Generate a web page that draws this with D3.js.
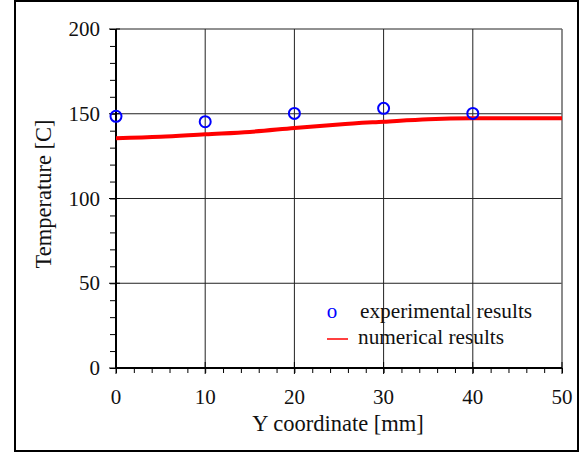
<!DOCTYPE html>
<html>
<head>
<meta charset="utf-8">
<script src="https://cdn.jsdelivr.net/npm/d3@7"></script>
<style>
  body { margin: 0; background: #fff; }
  svg { display: block; }
</style>
</head>
<body>
<div id="chart"></div>
<script>
const width = 587;
const height = 457;
const margin = { top: 29, right: 25, bottom: 89, left: 116 };
const serif = "Liberation Serif, Times New Roman, serif";

// experimental measurements (circles)
const expX = [0, 10, 20, 30, 40];
const expY = [148.5, 145.3, 150.2, 153.2, 150.2];

// numerical results (red line)
const numX = [0, 5, 10, 15, 20, 25, 30, 35, 40, 45, 50];
const numY = [135.5, 136.4, 137.9, 139.3, 141.6, 143.7, 145.3, 146.8, 147.3, 147.3, 147.3];

const xTicks = [0, 10, 20, 30, 40, 50];
const yTicks = [0, 50, 100, 150, 200];

const x = d3.scaleLinear().domain([0, 50]).range([margin.left, width - margin.right]);
const y = d3.scaleLinear().domain([0, 200]).range([height - margin.bottom, margin.top]);

const svg = d3.select("#chart").append("svg")
  .attr("width", width)
  .attr("height", height);

// outer frame
svg.append("rect")
  .attr("x", 15).attr("y", 1)
  .attr("width", 563).attr("height", 450)
  .attr("fill", "none")
  .attr("stroke", "#000")
  .attr("stroke-width", 2);

// grid
svg.append("g")
  .selectAll("line")
  .data(xTicks.slice(1, -1))
  .join("line")
  .attr("x1", d => x(d)).attr("x2", d => x(d))
  .attr("y1", y(200)).attr("y2", y(0))
  .attr("stroke", "#222").attr("stroke-width", 1);

svg.append("g")
  .selectAll("line")
  .data(yTicks.slice(1))
  .join("line")
  .attr("x1", x(0)).attr("x2", x(50))
  .attr("y1", d => y(d)).attr("y2", d => y(d))
  .attr("stroke", "#222").attr("stroke-width", 1);

// right border of plot
svg.append("line")
  .attr("x1", x(50)).attr("x2", x(50))
  .attr("y1", y(200)).attr("y2", y(0))
  .attr("stroke", "#666").attr("stroke-width", 1.5);

// x axis: minor ticks (every 2) + major ticks
const xAxis = svg.append("g").attr("transform", `translate(0,${y(0)})`);
xAxis.call(d3.axisBottom(x).tickValues(d3.range(0, 51, 2)).tickSize(5).tickFormat(""))
  .call(g => g.select(".domain").remove());
xAxis.append("g").selectAll("line")
  .data(xTicks)
  .join("line")
  .attr("x1", d => x(d)).attr("x2", d => x(d))
  .attr("y1", -6).attr("y2", 6)
  .attr("stroke", "#000");
xAxis.append("line")
  .attr("x1", x(0)).attr("x2", x(50))
  .attr("stroke", "#000").attr("stroke-width", 2);
xAxis.append("g").selectAll("text")
  .data(xTicks)
  .join("text")
  .attr("x", d => x(d))
  .attr("y", 36)
  .attr("text-anchor", "middle")
  .attr("font-family", serif)
  .attr("font-size", 21)
  .attr("fill", "#111")
  .text(d => d);

// y axis: minor ticks (every 10) + major ticks
const yAxis = svg.append("g").attr("transform", `translate(${x(0)},0)`);
yAxis.call(d3.axisLeft(y).tickValues(d3.range(0, 201, 10)).tickSize(6).tickFormat(""))
  .call(g => g.select(".domain").remove());
yAxis.append("g").selectAll("line")
  .data(yTicks)
  .join("line")
  .attr("y1", d => y(d)).attr("y2", d => y(d))
  .attr("x1", -7).attr("x2", 4)
  .attr("stroke", "#000");
yAxis.append("line")
  .attr("y1", y(0)).attr("y2", y(200))
  .attr("stroke", "#000").attr("stroke-width", 2);
yAxis.append("g").selectAll("text")
  .data(yTicks)
  .join("text")
  .attr("x", -16)
  .attr("y", d => y(d) + 7)
  .attr("text-anchor", "end")
  .attr("font-family", serif)
  .attr("font-size", 21)
  .attr("fill", "#111")
  .text(d => d);

// axis titles
svg.append("text")
  .attr("x", 338)
  .attr("y", 431)
  .attr("text-anchor", "middle")
  .attr("font-family", serif)
  .attr("font-size", 22.5)
  .attr("fill", "#111")
  .text("Y coordinate [mm]");

svg.append("text")
  .attr("transform", `translate(51,194) rotate(-90)`)
  .attr("text-anchor", "middle")
  .attr("font-family", serif)
  .attr("font-size", 22.5)
  .attr("fill", "#111")
  .text("Temperature [C]");

// numerical line
const line = d3.line().x((d, i) => x(numX[i])).y(d => y(d)).curve(d3.curveMonotoneX);
svg.append("path")
  .datum(numY)
  .attr("d", line)
  .attr("fill", "none")
  .attr("stroke", "#ff0000")
  .attr("stroke-width", 4);

// experimental circles
svg.append("g")
  .selectAll("circle")
  .data(expY)
  .join("circle")
  .attr("cx", (d, i) => x(expX[i]))
  .attr("cy", d => y(d))
  .attr("r", 5.5)
  .attr("fill", "none")
  .attr("stroke", "#0000ff")
  .attr("stroke-width", 2);

// legend
const legend = svg.append("g").attr("font-family", serif);
legend.append("text")
  .attr("x", 332).attr("y", 318)
  .attr("text-anchor", "middle")
  .attr("font-size", 21)
  .attr("fill", "#0000ff")
  .text("o");
legend.append("text")
  .attr("x", 360).attr("y", 318)
  .attr("font-size", 21.3)
  .attr("fill", "#111")
  .text("experimental results");
legend.append("line")
  .attr("x1", 327).attr("x2", 348)
  .attr("y1", 339).attr("y2", 339)
  .attr("stroke", "#ff0000").attr("stroke-width", 1.5);
legend.append("text")
  .attr("x", 358).attr("y", 344)
  .attr("font-size", 21.3)
  .attr("fill", "#111")
  .text("numerical results");
</script>
</body>
</html>
